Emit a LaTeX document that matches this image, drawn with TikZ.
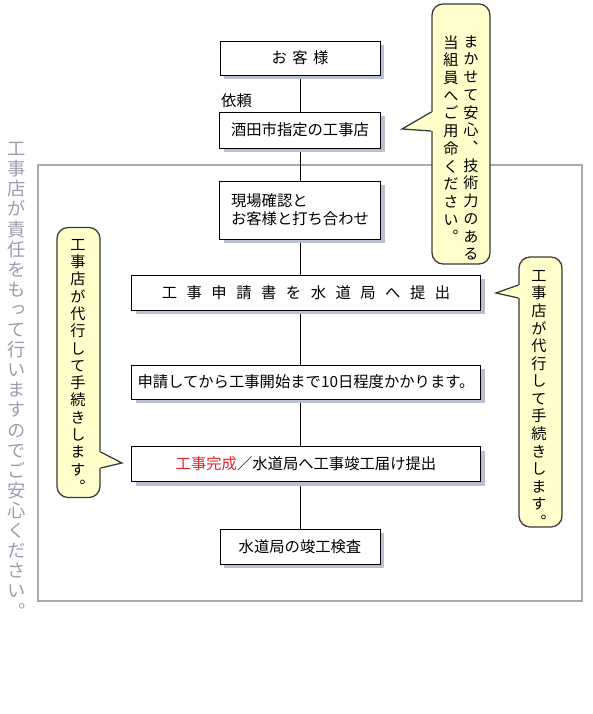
\documentclass[tikz,border=0pt]{standalone}
\usepackage{xcolor}
\usepackage{fontspec}
\setmainfont{Noto Sans CJK JP}
\newfontfamily\tate[RawFeature=+vert]{Noto Sans CJK JP}
\usepackage{tikz}
\usetikzlibrary{positioning, calc, shadows, backgrounds}

\definecolor{shade}{HTML}{B9BED0}
\definecolor{balloonbg}{HTML}{FFFFCC}
\definecolor{balloonline}{HTML}{3A3A3A}
\definecolor{framegray}{HTML}{A9A9A9}
\definecolor{notegray}{HTML}{9C9CB0}
\definecolor{donered}{HTML}{E8232D}

\newcommand{\spread}[2]{{\addfontfeature{LetterSpace=#1}#2}}

\begin{document}
\begin{tikzpicture}[
    x=0.025cm, y=-0.025cm,
    font=\fontsize{10.9}{12.8}\selectfont,
    flowbox/.style={draw, fill=white, line width=0.6pt, inner sep=2pt,
                    minimum height=0.875cm,
                    drop shadow={shadow xshift=3pt, shadow yshift=-3pt,
                                 fill=shade, opacity=1}},
    balloon/.style={draw=balloonline, fill=balloonbg, line width=0.9pt,
                    rounded corners=0.28cm},
    tatebox/.style={align=center, inner sep=0pt,
                    font=\tate\fontsize{10.8}{#1}\selectfont},
    pointer/.style={draw=balloonline, line width=0.9pt},
    link/.style={line width=0.6pt}
  ]

  \useasboundingbox (0,0) rectangle (592,714);

  % --- Pasos ---
  \node[flowbox, minimum width=4cm, minimum height=0.85cm] (guest) at (300,58)
       {\spread{35}{お客様}};
  \node[flowbox, minimum width=4.03cm, minimum height=0.9cm] (shop) at (300,130)
       {酒田市指定の工事店};
  \node[anchor=south west, inner sep=0pt] (request)
       at ($(shop.north west)+(2,-4)$) {依頼};
  \node[flowbox, minimum width=4.03cm, minimum height=1.45cm, align=left]
       (check) at (300,210) {現場確認と\\お客様と打ち合わせ};
  \node[flowbox, minimum width=8.72cm] (apply) at (306,292.5)
       {\spread{62}{工事申請書を水道局へ提出}};
  \node[flowbox, minimum width=8.72cm, minimum height=0.85cm] (wait) at (306,382)
       {申請してから工事開始まで10日程度かかります。};
  \node[flowbox, minimum width=8.72cm] (done) at (306,464)
       {\textcolor{donered}{工事完成}／水道局へ工事竣工届け提出};
  \node[flowbox, minimum width=4cm] (insp) at (300,546.5) {水道局の竣工検査};

  % --- Marco y linea ---
  \begin{scope}[on background layer]
    \draw[framegray, line width=1.3pt] (38,165) rectangle (582,601);
    \draw[link] (guest) -- (shop) -- (check) -- (insp);
  \end{scope}

  % --- Globos ---
  \node[balloon, minimum width=1.45cm, minimum height=6.5cm] (advice) at (461,134) {};
  \coordinate (advicetip) at (402,129);
  \fill[balloonbg] ($(advice.west |- 0,112)+(1.5,0)$) -- (advicetip)
       -- ($(advice.west |- 0,131)+(1.5,0)$) -- cycle;
  \draw[pointer] (advice.west |- 0,112) -- (advicetip) -- (advice.west |- 0,131);
  \node[tatebox=12.6pt, anchor=north] (advice1) at (471,35)
       {ま\\か\\せ\\て\\安\\心\\、\\技\\術\\力\\の\\あ\\る};
  \node[tatebox=12.6pt, anchor=north] (advice2) at (451,35)
       {当\\組\\員\\へ\\ご\\用\\命\\く\\だ\\さ\\い\\。};

  \node[balloon, minimum width=1.075cm, minimum height=6.75cm] (procR) at (540.5,392) {};
  \coordinate (procRtip) at (496,293);
  \fill[balloonbg] ($(procR.west |- 0,285)+(1.5,0)$) -- (procRtip)
       -- ($(procR.west |- 0,298)+(1.5,0)$) -- cycle;
  \draw[pointer] (procR.west |- 0,285) -- (procRtip) -- (procR.west |- 0,298);
  \node[tatebox=12.5pt, anchor=north] (procRtext) at (539,270)
       {工\\事\\店\\が\\代\\行\\し\\て\\手\\続\\き\\し\\ま\\す\\。};

  \node[balloon, minimum width=1.075cm, minimum height=6.75cm] (procL) at (78.5,362.5) {};
  \coordinate (procLtip) at (122,463);
  \fill[balloonbg] ($(procL.east |- 0,452)+(-1.5,0)$) -- (procLtip)
       -- ($(procL.east |- 0,468)+(-1.5,0)$) -- cycle;
  \draw[pointer] (procL.east |- 0,452) -- (procLtip) -- (procL.east |- 0,468);
  \node[tatebox=12.3pt, anchor=north] (procLtext) at (78,239)
       {工\\事\\店\\が\\代\\行\\し\\て\\手\\続\\き\\し\\ま\\す\\。};

  % --- Nota lateral ---
  \node[align=center, inner sep=0pt, anchor=north, text=notegray,
        font=\tate\fontsize{13}{14.3}\selectfont] (note) at (17,142)
       {工\\事\\店\\が\\責\\任\\を\\も\\っ\\て\\行\\い\\ま\\す\\の\\で\\ご\\安\\心\\く\\だ\\さ\\い\\。};

\end{tikzpicture}
\end{document}
